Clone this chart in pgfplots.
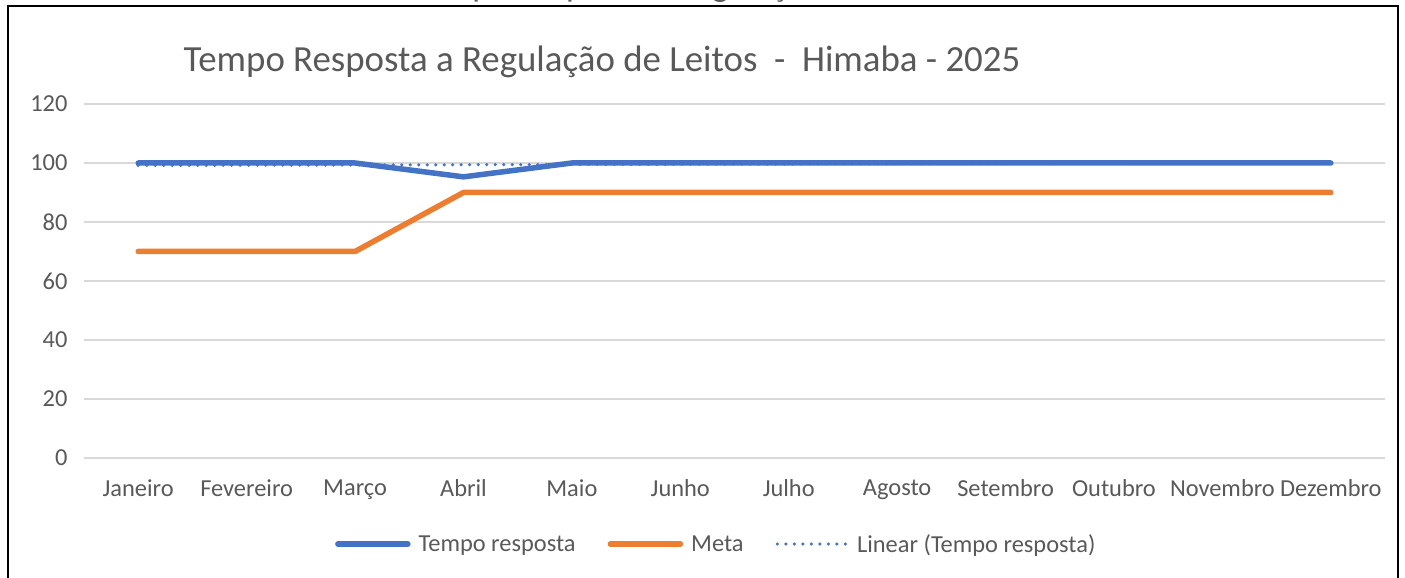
\documentclass[border=0pt]{standalone}
\usepackage{pgfplots}
\pgfplotsset{compat=1.18}
\usepackage{fontspec}
\setmainfont{Carlito}
\definecolor{serieblue}{HTML}{4472C4}
\definecolor{metaorange}{HTML}{ED7D31}
\definecolor{gridgray}{HTML}{D9D9D9}
\definecolor{textgray}{HTML}{595959}
\begin{document}
\begin{tikzpicture}[x=1bp,y=1bp]
\useasboundingbox (0,0) rectangle (1405,578);
% title of the chart above, cut off by the page edge
\begin{scope}
  \clip (0,0) rectangle (1405,578);
  \node[anchor=base west, inner sep=0, text=textgray,
        font=\fontsize{35}{40}\selectfont] at (413,581)
        {Tempo Resposta a Regulação de Leitos};
\end{scope}
\draw[line width=2.5bp] (8,-5) -- (8,572) -- (1398,572) -- (1398,-5);
\node[text=textgray, font=\fontsize{37}{44}\selectfont] at (602,516)
  {Tempo Resposta a Regulação de Leitos \ - \ Himaba - 2025};

\begin{axis}[
    at={(84bp,120bp)}, anchor=south west,
    scale only axis, width=1301bp, height=354bp,
    xmin=0.5, xmax=12.5, ymin=0, ymax=120,
    xtick={1,...,12},
    xticklabels={Janeiro,Fevereiro,Março,Abril,Maio,Junho,Julho,Agosto,Setembro,Outubro,Novembro,Dezembro},
    ytick={0,20,...,120},
    axis line style={draw=none},
    major tick length=0pt,
    ymajorgrids=true,
    grid style={gridgray, line width=1.5bp},
    tick label style={font=\fontsize{24.5}{29}\selectfont, text=textgray},
    /pgf/number format/assume math mode=true,
    yticklabel style={xshift=-13bp},
    xticklabel style={yshift=-18bp},
    legend style={at={(0.486,-0.243)}, anchor=center, draw=none, fill=none,
        legend columns=-1, font=\fontsize{24.5}{29}\selectfont, text=textgray,
        /tikz/every even column/.append style={column sep=30bp}},
    legend image code/.code={\draw[#1] (0bp,0bp) -- (70bp,0bp); \path (76bp,0bp);},
]
\addplot[serieblue, line width=5.5bp, line cap=round, line join=round]
  coordinates {(1,100)(2,100)(3,100)(4,95.3)(5,100)(6,100)(7,100)(8,100)(9,100)(10,100)(11,100)(12,100)};
\addlegendentry{Tempo resposta}
\addplot[metaorange, line width=5.5bp, line cap=round, line join=round]
  coordinates {(1,70)(2,70)(3,70)(4,90)(5,90)(6,90)(7,90)(8,90)(9,90)(10,90)(11,90)(12,90)};
\addlegendentry{Meta}
\addplot[serieblue, line width=3.5bp, line cap=round, dash pattern=on 0bp off 8.5bp]
  coordinates {(1,99.16)(12,100.06)};
\addlegendentry{Linear (Tempo resposta)}
\end{axis}
\end{tikzpicture}
\end{document}
